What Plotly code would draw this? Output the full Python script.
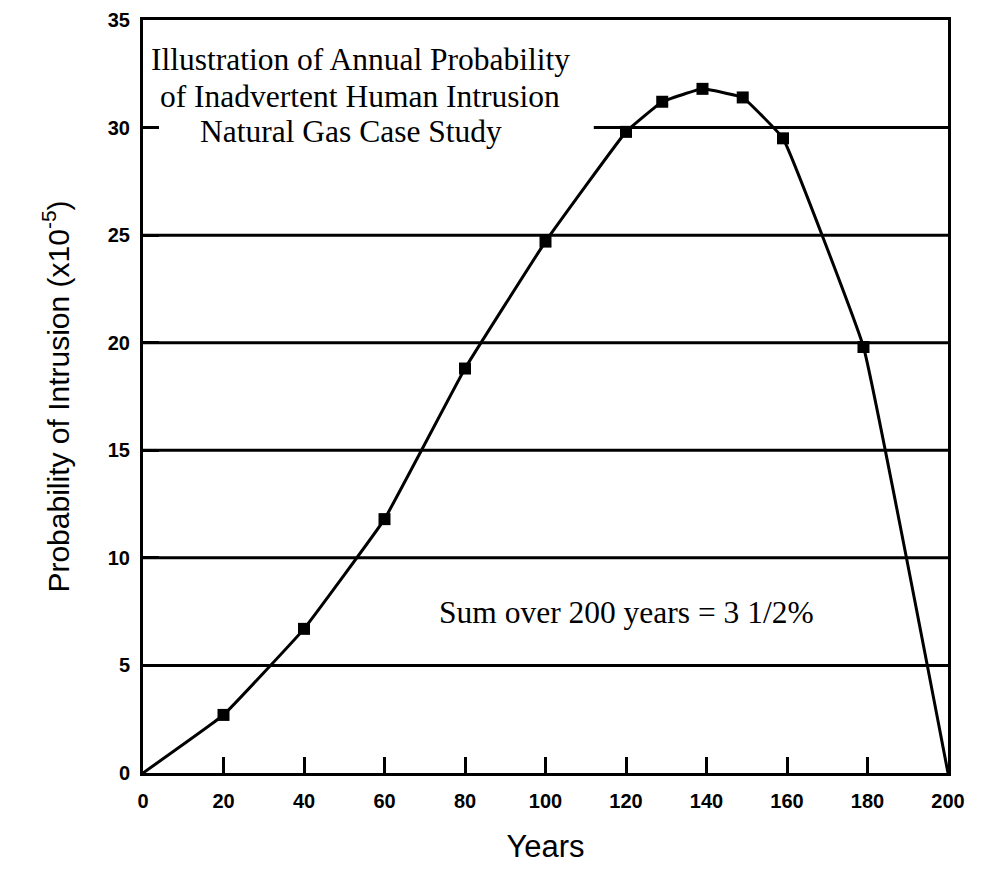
import plotly.graph_objects as go

years = [0, 20, 40, 60, 80, 100, 120, 129, 139, 149, 159, 179, 200]
prob = [0, 2.7, 6.7, 11.8, 18.8, 24.7, 29.8, 31.2, 31.8, 31.4, 29.5, 19.8, 0]
marker_years = years[1:-1]
marker_prob = prob[1:-1]

x_ticks = [0, 20, 40, 60, 80, 100, 120, 140, 160, 180, 200]
y_ticks = [0, 5, 10, 15, 20, 25, 30, 35]
grid_full = [5, 10, 15, 20, 25]
grid_partial_level = 30
grid_partial_start = 112

title_lines = ["Illustration of Annual Probability",
               "of Inadvertent Human Intrusion",
               "Natural Gas Case Study"]
sum_text = "Sum over 200 years = 3 1/2%"

fig = go.Figure()
fig.add_trace(go.Scatter(x=years, y=prob, mode="lines",
                         line=dict(color="black", width=3, shape="spline", smoothing=0.25),
                         showlegend=False, hoverinfo="skip"))
fig.add_trace(go.Scatter(x=marker_years, y=marker_prob, mode="markers",
                         marker=dict(symbol="square", size=12, color="black"),
                         showlegend=False))

shapes = []
for g in grid_full:
    shapes.append(dict(type="line", xref="x", yref="y", x0=0, x1=200, y0=g, y1=g,
                       line=dict(color="black", width=3), layer="below"))
shapes.append(dict(type="line", xref="x", yref="y", x0=grid_partial_start, x1=200,
                   y0=grid_partial_level, y1=grid_partial_level,
                   line=dict(color="black", width=3), layer="below"))

serif = dict(family="Liberation Serif", size=31.5, color="black")
annotations = []
title_pos = [(0.270, 0.947), (0.270, 0.899), (0.258, 0.852)]
for txt, (ax, ay) in zip(title_lines, title_pos):
    annotations.append(dict(text=txt, xref="paper", yref="paper", x=ax, y=ay,
                            showarrow=False, xanchor="center", yanchor="middle", font=serif))
annotations.append(dict(text=sum_text, xref="paper", yref="paper", x=0.6, y=0.213,
                        showarrow=False, xanchor="center", yanchor="middle", font=serif))

tickfont = dict(family="Liberation Sans", size=20, color="black", weight="bold")

fig.update_layout(
    width=975, height=878,
    margin=dict(l=135, r=35, t=12, b=113, autoexpand=False),
    paper_bgcolor="white", plot_bgcolor="white",
    shapes=shapes, annotations=annotations,
    xaxis=dict(range=[0, 200], tickvals=x_ticks, ticks="inside", ticklen=16, tickwidth=3,
               tickcolor="black", showline=True, linecolor="black", linewidth=3, mirror=True,
               showgrid=False, zeroline=False, ticklabelstandoff=8, tickfont=tickfont,
               automargin=False, ticklabeloverflow="allow",
               title=dict(text="Years", standoff=25,
                          font=dict(family="Liberation Sans", size=31, color="black"))),
    yaxis=dict(range=[0, 35], tickvals=y_ticks, ticks="inside", ticklen=16, tickwidth=3,
               tickcolor="black", showline=True, linecolor="black", linewidth=3, mirror=True,
               showgrid=False, zeroline=False, ticklabelstandoff=6, tickfont=tickfont,
               automargin=False, ticklabeloverflow="allow",
               title=dict(text="Probability of Intrusion (x10<sup>-5</sup>)", standoff=30,
                          font=dict(family="Liberation Sans", size=30, color="black"))),
)

fig.write_html("out.html")
